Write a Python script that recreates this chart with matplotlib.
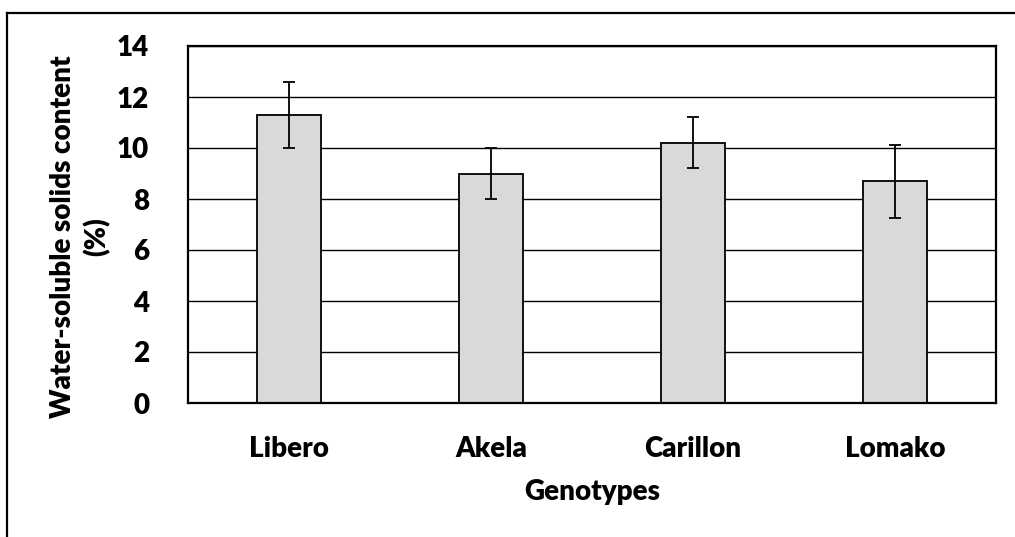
import matplotlib
matplotlib.use("Agg")
import matplotlib.pyplot as plt
from matplotlib.lines import Line2D

categories = ["Libero", "Akela", "Carillon", "Lomako"]
values = [11.3, 9.0, 10.2, 8.7]
errors = [1.3, 1.0, 1.0, 1.43]
yticks = [0, 2, 4, 6, 8, 10, 12, 14]

FW = 'heavy'
plt.rcParams['font.family'] = ['Lato', 'DejaVu Sans']
plt.rcParams['font.weight'] = FW

W, H = 1015, 537
fig = plt.figure(figsize=(W / 100, H / 100), dpi=100)
ax = fig.add_axes([188 / W, 1 - 403 / H, (996 - 188) / W, (403 - 46) / H])

x = list(range(len(categories)))
ax.set_axisbelow(True)
ax.yaxis.grid(True, color='black', linewidth=1.0)
ax.bar(x, values, width=0.314, color='#d9d9d9', edgecolor='black', linewidth=1.3, zorder=2)
ax.errorbar(x, values, yerr=errors, fmt='none', ecolor='black', elinewidth=1.3,
            capsize=4.3, capthick=1.3, zorder=3)

ax.set_xlim(-0.5, len(categories) - 0.5)
ax.set_ylim(0, 14)
ax.set_yticks(yticks)
ax.set_yticklabels([str(v) for v in yticks])
ax.set_xticks(x)
ax.set_xticklabels(categories)
ax.tick_params(axis='both', length=0, labelsize=20)
ax.tick_params(axis='y', pad=28)
ax.tick_params(axis='x', pad=24)
for lab in ax.get_xticklabels() + ax.get_yticklabels():
    lab.set_fontweight(FW)
for s in ax.spines.values():
    s.set_linewidth(1.6)
    s.set_color('black')

fig.text(592 / W, 1 - 492 / H, "Genotypes", ha='center', va='center',
         fontsize=20, fontweight=FW)
fig.text(80 / W, 1 - 237 / H, "Water-soluble solids content\n(%)", ha='center', va='center',
         rotation=90, fontsize=20, fontweight=FW, linespacing=1.3)

fig.add_artist(Line2D([7 / W, 1.0], [1 - 13 / H, 1 - 13 / H], color='black', linewidth=1.6))
fig.add_artist(Line2D([7 / W, 7 / W], [0.0, 1 - 13 / H], color='black', linewidth=1.6))

fig.savefig("out.png", dpi=100)
